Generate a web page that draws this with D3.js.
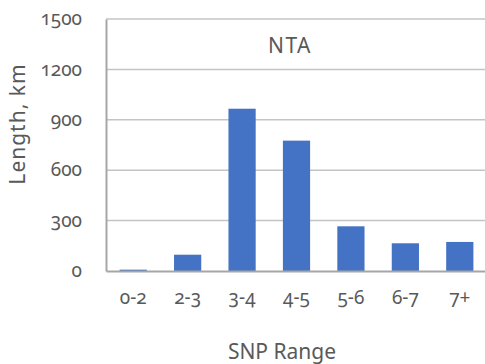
<!DOCTYPE html>
<html>
<head>
<meta charset="utf-8">
<script src="https://cdn.jsdelivr.net/npm/d3@7"></script>
<style>
  html, body { margin: 0; padding: 0; background: #fff; }
  svg { display: block; }
  svg text {
    font-family: "Noto Sans", "Open Sans", sans-serif;
    font-variant-numeric: oldstyle-nums;
    font-feature-settings: "onum" 1;
  }
</style>
</head>
<body>
<svg id="chart" width="485" height="364"></svg>
<script>
// SNP range bins and track length per bin (km)
const categories = ["0-2", "2-3", "3-4", "4-5", "5-6", "6-7", "7+"];
const lengths = [8, 97, 966, 776, 266, 165, 173];
const yTicks = [0, 300, 600, 900, 1200, 1500];
const title = "NTA";
const xTitle = "SNP Range";
const yTitle = "Length, km";

const svg = d3.select("#chart");
const plot = { left: 106, right: 487, top: 19, bottom: 271 };
const textColor = "#595959";

const x = d3.scaleBand()
  .domain(categories)
  .range([plot.left, plot.right])
  .paddingInner(0.5)
  .paddingOuter(0.25);

const y = d3.scaleLinear()
  .domain([0, 1500])
  .range([plot.bottom, plot.top]);

// horizontal gridlines
svg.append("g")
  .selectAll("line")
  .data(yTicks.filter(d => d > 0))
  .join("line")
  .attr("x1", plot.left)
  .attr("x2", plot.right)
  .attr("y1", d => y(d))
  .attr("y2", d => y(d))
  .attr("stroke", "#c4c4c4")
  .attr("stroke-width", 1.5);

// bars
svg.append("g")
  .selectAll("rect")
  .data(lengths)
  .join("rect")
  .attr("x", (d, i) => x(categories[i]))
  .attr("width", x.bandwidth())
  .attr("y", d => y(d))
  .attr("height", d => y(0) - y(d))
  .attr("fill", "#4472c4");

// y axis
const yAxis = svg.append("g")
  .attr("transform", `translate(${plot.left},0)`)
  .call(d3.axisLeft(y).tickValues(yTicks).tickFormat(d3.format("d")).tickSize(0).tickPadding(24));
yAxis.attr("font-family", null).attr("font-size", null);
yAxis.select(".domain").attr("stroke", "#a6a6a6").attr("stroke-width", 2);
yAxis.selectAll("text")
  .attr("fill", textColor)
  .style("font-size", "19px")
  .attr("dy", "0.3em");

// x axis
const xAxis = svg.append("g")
  .attr("transform", `translate(0,${plot.bottom})`)
  .call(d3.axisBottom(x).tickSize(0).tickPadding(20));
xAxis.attr("font-family", null).attr("font-size", null);
xAxis.select(".domain").attr("stroke", "#a6a6a6").attr("stroke-width", 2);
xAxis.selectAll("text")
  .attr("fill", textColor)
  .style("font-size", "19px");

// chart title inside plot
svg.append("text")
  .attr("x", 290)
  .attr("y", 53)
  .attr("text-anchor", "middle")
  .attr("fill", textColor)
  .style("font-size", "21px")
  .style("letter-spacing", "1.5px")
  .text(title);

// axis titles
svg.append("text")
  .attr("x", 282)
  .attr("y", 359)
  .attr("text-anchor", "middle")
  .attr("fill", textColor)
  .style("font-size", "21px")
  .text(xTitle);

svg.append("text")
  .attr("transform", "translate(25,124) rotate(-90)")
  .attr("text-anchor", "middle")
  .attr("fill", textColor)
  .style("font-size", "21px")
  .style("letter-spacing", "1px")
  .text(yTitle);
</script>
</body>
</html>
